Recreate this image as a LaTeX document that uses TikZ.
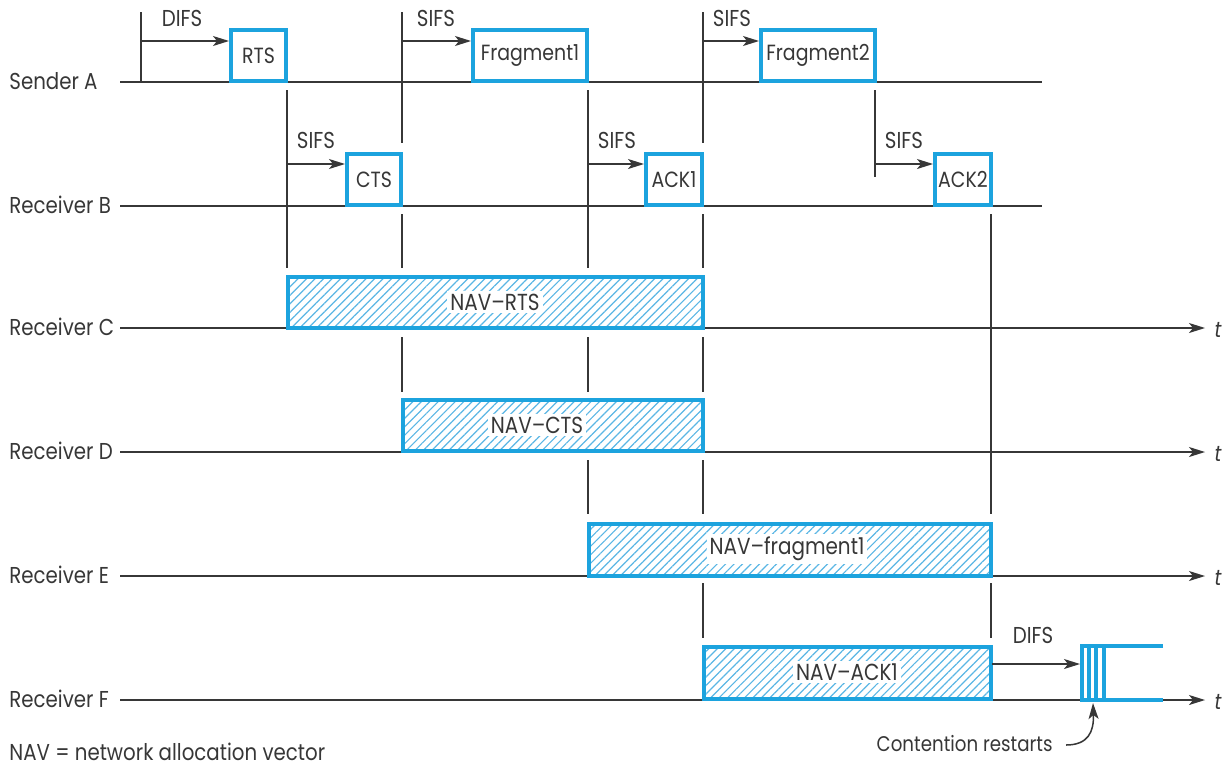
\documentclass[tikz,border=0pt]{standalone}
\usepackage{fontspec}
\setmainfont{Poppins}[FakeStretch=0.86]
\usetikzlibrary{arrows.meta,patterns.meta,fit}
\definecolor{pktblue}{RGB}{28,163,222}
\definecolor{hatchblue}{RGB}{90,182,228}
\definecolor{ink}{RGB}{55,55,55}
\tikzset{
  pkt/.style={draw=pktblue,line width=2pt,inner sep=0pt,fill=white,font=\fontsize{11}{13}\selectfont,text=ink},
  nav/.style={draw=pktblue,line width=2pt,inner sep=0pt,
     pattern={Lines[angle=45,distance=3pt,line width=0.6pt]},pattern color=hatchblue},
  navlabel/.style={fill=white,inner sep=1.5pt,font=\fontsize{11.6}{13}\selectfont,text=ink},
  axis/.style={draw=ink,line width=0.75pt},
  tick/.style={draw=ink,line width=0.75pt},
  ifs/.style={draw=ink,line width=0.75pt,-{Stealth[length=8pt,width=5pt,inset=2pt]}},
  ifslabel/.style={font=\fontsize{11.5}{13}\selectfont,text=ink,inner sep=0pt},
  rowlabel/.style={font=\fontsize{11.5}{13}\selectfont,text=ink,anchor=west,inner sep=0pt},
  tlabel/.style={font=\fontsize{11}{13}\selectfont\itshape,text=ink,inner sep=0pt},
  cont/.style={draw=pktblue,line width=1.6pt}
}
\begin{document}
\begin{tikzpicture}[x=0.5pt,y=-0.5pt]
\useasboundingbox (0,0) rectangle (1229,772);
% time axes
\coordinate (A0) at (120,82);  \coordinate (A1) at (1042,82);
\coordinate (B0) at (120,206); \coordinate (B1) at (1042,206);
\coordinate (C0) at (120,328); \coordinate (C1) at (1205,328);
\coordinate (D0) at (120,452); \coordinate (D1) at (1205,452);
\coordinate (E0) at (120,576); \coordinate (E1) at (1205,576);
\coordinate (F0) at (120,700); \coordinate (F1) at (1205,700);
\draw[axis] (A0) -- (A1);
\draw[axis] (B0) -- (B1);
\draw[axis,-{Stealth[length=8pt,width=5pt,inset=2pt]}] (C0) -- (C1);
\draw[axis,-{Stealth[length=8pt,width=5pt,inset=2pt]}] (D0) -- (D1);
\draw[axis,-{Stealth[length=8pt,width=5pt,inset=2pt]}] (E0) -- (E1);
\draw[axis,-{Stealth[length=8pt,width=5pt,inset=2pt]}] (F0) -- (F1);
\node[tlabel] (tC) at (1218,330) {t};
\node[tlabel] (tD) at (1218,454) {t};
\node[tlabel] (tE) at (1218,578) {t};
\node[tlabel] (tF) at (1218,702) {t};
% row labels
\node[rowlabel] (lA) at (9,81) {Sender A};
\node[rowlabel] (lB) at (9,205) {Receiver B};
\node[rowlabel] (lC) at (9,327) {Receiver C};
\node[rowlabel] (lD) at (9,451) {Receiver D};
\node[rowlabel] (lE) at (9,575) {Receiver E};
\node[rowlabel] (lF) at (9,699) {Receiver F};
% vertical ticks
\draw[tick] (141,12) -- (141,82);
\draw[tick] (287,90) -- (287,268);
\draw[tick] (402,12) -- (402,143);
\draw[tick] (402,214) -- (402,268);
\draw[tick] (402,337) -- (402,392);
\draw[tick] (588,90) -- (588,268);
\draw[tick] (588,337) -- (588,392);
\draw[tick] (588,460) -- (588,514);
\draw[tick] (703,12) -- (703,143);
\draw[tick] (703,214) -- (703,268);
\draw[tick] (703,337) -- (703,392);
\draw[tick] (703,460) -- (703,514);
\draw[tick] (703,583) -- (703,638);
\draw[tick] (875,90) -- (875,177);
\draw[tick] (991,214) -- (991,514);
\draw[tick] (991,583) -- (991,638);
% packets
\node[pkt,fit={(231,30)(286,81)}] (rts) {};
\node[pkt,fit={(347,154)(401,205)}] (cts) {};
\node[pkt,fit={(473,30)(587,81)}] (frag1) {};
\node[pkt,fit={(646,154)(702,205)}] (ack1) {};
\node[pkt,fit={(761,30)(875,81)}] (frag2) {};
\node[pkt,fit={(935,154)(991,205)}] (ack2) {};
\node[pkt,draw=none,fill=none] at (rts.center) {RTS};
\node[pkt,draw=none,fill=none] at (cts.center) {CTS};
\node[pkt,draw=none,fill=none] at (frag1.center) {Fragment1};
\node[pkt,draw=none,fill=none] at (ack1.center) {ACK1};
\node[pkt,draw=none,fill=none] at (frag2.center) {Fragment2};
\node[pkt,draw=none,fill=none] at (ack2.center) {ACK2};
% interframe spaces
\coordinate (d1) at (141,41);
\draw[ifs] (d1) -- (rts.west |- d1);
\node[ifslabel] (d1l) at (182,18) {DIFS};
\coordinate (s1) at (287,164);
\draw[ifs] (s1) -- (cts.west |- s1);
\node[ifslabel] (s1l) at (316,140) {SIFS};
\coordinate (s2) at (402,41);
\draw[ifs] (s2) -- (frag1.west |- s2);
\node[ifslabel] (s2l) at (436,18) {SIFS};
\coordinate (s3) at (588,164);
\draw[ifs] (s3) -- (ack1.west |- s3);
\node[ifslabel] (s3l) at (617,140) {SIFS};
\coordinate (s4) at (703,41);
\draw[ifs] (s4) -- (frag2.west |- s4);
\node[ifslabel] (s4l) at (732,18) {SIFS};
\coordinate (s5) at (875,164);
\draw[ifs] (s5) -- (ack2.west |- s5);
\node[ifslabel] (s5l) at (904,140) {SIFS};
% NAV boxes
\node[nav,fit={(288,277)(703,328)}] (navrts) {};
\node[navlabel] (navrtsl) at (495,302) {NAV--RTS};
\node[nav,fit={(403,400)(703,451)}] (navcts) {};
\node[navlabel] (navctsl) at (537,425) {NAV--CTS};
\node[nav,fit={(589,524)(991,576)}] (navf1) {};
\node[navlabel] (navf1l) at (787,549) {NAV--fragment1};
\node[nav,fit={(704,647)(991,699)}] (navack) {};
\node[navlabel] (navackl) at (847,672) {NAV--ACK1};
% DIFS at F and contention
\coordinate (d2) at (992,664);
\coordinate (cw) at (1080,664);
\draw[ifs] (d2) -- (cw);
\node[ifslabel] (d2l) at (1033,635) {DIFS};
\draw[cont] (1163,646) -- (1082,646) -- (1082,700) -- (1163,700);
\draw[cont] (1089,646) -- (1089,700);
\draw[cont] (1096,646) -- (1096,700);
\draw[cont] (1104,646) -- (1104,700);
\node[ifslabel,anchor=east,font=\fontsize{10.6}{13}\selectfont] (contl) at (1053,744) {Contention restarts};
\draw[draw=ink,line width=0.75pt,-{Stealth[length=8pt,width=5pt,inset=2pt]}]
  (1066,745) .. controls (1088,745) and (1094,732) .. (1093,703);
% legend
\node[rowlabel] (legend) at (9,752) {NAV = network allocation vector};
\end{tikzpicture}
\end{document}
